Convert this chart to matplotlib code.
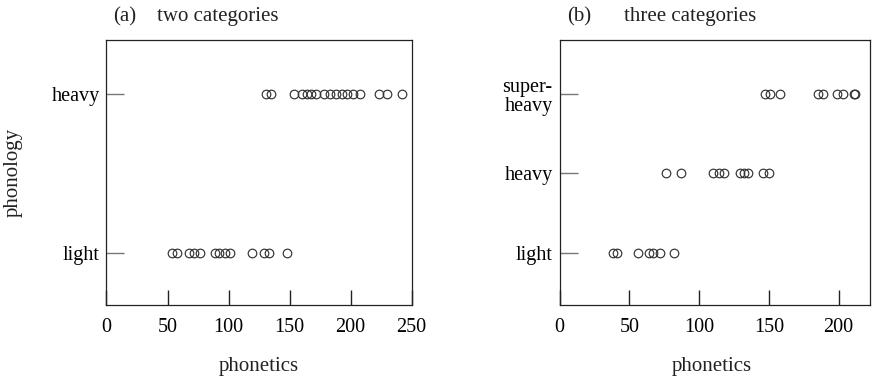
import matplotlib
matplotlib.use("Agg")
import matplotlib.pyplot as plt

plt.rcParams["font.family"] = ["Liberation Serif", "DejaVu Serif"]

# Panel (a): two weight categories
two_labels = ["light", "heavy"]
two_light = [54, 58, 68, 72, 77, 89, 92, 97, 101, 119, 129, 133, 148]
two_heavy = [131, 135, 154, 160, 164, 168, 172, 178, 183, 188, 193, 197,
             202, 208, 223, 230, 242]

# Panel (b): three weight categories
three_labels = ["light", "heavy", "super-\nheavy"]
three_light = [38, 41, 56, 64, 67, 72, 82]
three_heavy = [76, 87, 110, 114, 118, 129, 132, 135, 146, 150]
three_super = [147, 151, 158, 185, 189, 199, 203, 211, 212]

x_ticks_a = [0, 50, 100, 150, 200, 250]
x_ticks_b = [0, 50, 100, 150, 200]

W, H = 879, 380
fig = plt.figure(figsize=(W / 100, H / 100), dpi=100)


def px_axes(x0, x1, y0, y1):
    return fig.add_axes([x0 / W, 1 - y1 / H, (x1 - x0) / W, (y1 - y0) / H])


ax_a = px_axes(106.5, 411.5, 40, 305)
ax_b = px_axes(559.5, 870, 40, 305)

mk = dict(marker="o", linestyle="none", markersize=6.2, markerfacecolor="none",
          markeredgecolor="#333333", markeredgewidth=0.85)


def style(ax, xticks, labels):
    ax.set_xticks(xticks)
    ax.set_xticklabels([str(t) for t in xticks])
    ax.set_yticks(range(1, len(labels) + 1))
    ax.set_yticklabels(labels, ha="right", linespacing=1.0)
    ax.tick_params(axis="x", direction="in", length=11, width=1.0,
                   labelsize=14.5, pad=9, color="#222222")
    ax.tick_params(axis="y", direction="in", length=13, width=1.0,
                   labelsize=14.5, pad=5, color="#777777")
    for s in ax.spines.values():
        s.set_linewidth(0.9)
        s.set_color("#222222")


for i, vals in enumerate([two_light, two_heavy], start=1):
    ax_a.plot(vals, [i] * len(vals), **mk)
ax_a.set_xlim(0, 250)
ax_a.set_ylim(0.67, 2.34)
style(ax_a, x_ticks_a, two_labels)

for i, vals in enumerate([three_light, three_heavy, three_super], start=1):
    ax_b.plot(vals, [i] * len(vals), **mk)
ax_b.set_xlim(0, 222.5)
ax_b.set_ylim(0.345, 3.68)
style(ax_b, x_ticks_b, three_labels)

txt = dict(fontsize=15, color="#222222")
fig.text(113 / W, 1 - 17 / H, "(a)", ha="left", va="center", **txt)
fig.text(218 / W, 1 - 17 / H, "two categories", ha="center", va="center", **txt)
fig.text(567 / W, 1 - 17 / H, "(b)", ha="left", va="center", **txt)
fig.text(690 / W, 1 - 17 / H, "three categories", ha="center", va="center", **txt)

fig.text(259 / W, 1 - 366 / H, "phonetics", ha="center", va="center", **txt)
fig.text(712 / W, 1 - 366 / H, "phonetics", ha="center", va="center", **txt)
fig.text(13 / W, 1 - 172 / H, "phonology", ha="center", va="center",
         rotation=90, **txt)

fig.savefig("out.png", dpi=100)
